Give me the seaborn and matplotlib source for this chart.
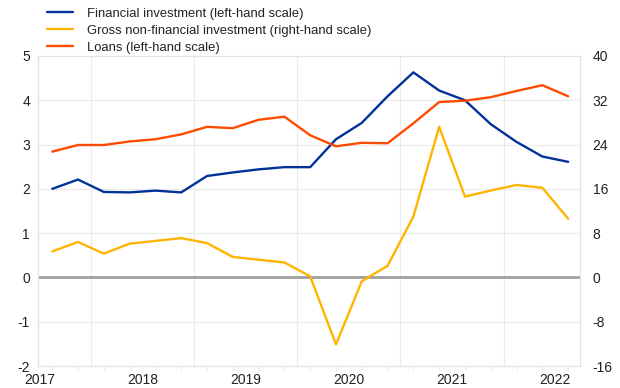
import numpy as np
import pandas as pd
import matplotlib
matplotlib.use("Agg")
import matplotlib.pyplot as plt
import seaborn as sns

# quarterly observations, 2017 Q3 to 2022 Q3
quarters = pd.period_range("2017Q3", "2022Q3", freq="Q")
financial = [2.00, 2.21, 1.93, 1.92, 1.96, 1.92, 2.29, 2.37, 2.44, 2.49, 2.49,
             3.12, 3.49, 4.09, 4.63, 4.22, 4.00, 3.46, 3.06, 2.73, 2.61]
loans = [2.84, 2.99, 2.99, 3.07, 3.12, 3.23, 3.40, 3.37, 3.56, 3.63, 3.21,
         2.96, 3.04, 3.03, 3.48, 3.96, 3.99, 4.07, 4.21, 4.34, 4.09]
gross_nonfin = [4.7, 6.4, 4.3, 6.1, 6.6, 7.1, 6.2, 3.7, 3.2, 2.7, 0.2,
                -12.1, -0.7, 2.1, 11.0, 27.2, 14.6, 15.7, 16.7, 16.2, 10.6]
years = [2017, 2018, 2019, 2020, 2021, 2022]

labels = ["Financial investment (left-hand scale)",
          "Gross non-financial investment (right-hand scale)",
          "Loans (left-hand scale)"]
colors = ["#003299", "#ffb400", "#ff4b00"]

# x position: middle of each quarter in fractional years
xpos = np.array([q.year + (q.quarter - 0.5) / 4 for q in quarters])
df = pd.DataFrame({"x": xpos, "financial": financial, "loans": loans,
                   "gross": gross_nonfin})

sns.set_style("white")
plt.rcParams["font.family"] = ["Liberation Sans", "DejaVu Sans"]
plt.rcParams["axes.unicode_minus"] = False
grid_col = "#ebebeb"
text_col = "#222222"

fig = plt.figure(figsize=(6.2, 3.88), dpi=100)
ax = fig.add_axes([0.0618, 0.0567, 0.8737, 0.799])
ax2 = ax.twinx()

sns.lineplot(data=df, x="x", y="financial", ax=ax, color=colors[0], lw=1.7, label=labels[0], legend=False)
sns.lineplot(data=df, x="x", y="loans", ax=ax, color=colors[2], lw=1.7, label=labels[2], legend=False)
sns.lineplot(data=df, x="x", y="gross", ax=ax2, color=colors[1], lw=1.7, label=labels[1], legend=False)

ax.set_xlim(2017.49, 2022.74)
ax.set_ylim(-2, 5)
ax2.set_ylim(-16, 40)
ax.set_yticks(range(-2, 6))
ax2.set_yticks(range(-16, 41, 8))
ax.set_xlabel("")
ax.set_ylabel("")
ax2.set_ylabel("")

ax.axhline(0, color="#a0a0a0", lw=2, zorder=1.5)
ax.grid(axis="y", color=grid_col, lw=0.8)
ax.set_axisbelow(True)

# year boundaries: gridlines + long ticks, year labels centred on each year
ax.set_xticks([y for y in years[1:]])
ax.set_xticklabels([])
ax.grid(axis="x", color=grid_col, lw=0.8)
ax.tick_params(axis="x", which="major", length=6, color=grid_col, width=0.8)
ax.set_xticks([y + 0.5 for y in years], minor=True)
ax.set_xticklabels([str(y) for y in years], minor=True)
ax.tick_params(axis="x", which="minor", length=0, pad=5, labelsize=10, labelcolor=text_col)

# short ticks at each quarter
sec = ax.secondary_xaxis("bottom")
sec.set_xticks(xpos)
sec.set_xticklabels([])
sec.tick_params(length=3, color=grid_col, width=0.8)
sec.spines["bottom"].set_visible(False)

ax.tick_params(axis="y", length=0, pad=6, labelsize=10, labelcolor=text_col)
ax2.tick_params(axis="y", length=0, pad=9, labelsize=10, labelcolor=text_col)

for a in (ax, ax2):
    for s in a.spines.values():
        s.set_color("#e2e2e2")
        s.set_linewidth(0.8)

h1, l1 = ax.get_legend_handles_labels()
h2, l2 = ax2.get_legend_handles_labels()
handles = dict(zip(l1 + l2, h1 + h2))
fig.legend([handles[l] for l in labels], labels, loc="upper left",
           bbox_to_anchor=(0.0758, 0.980), frameon=False, fontsize=9.4,
           handlelength=2.0, handletextpad=1.1, labelspacing=0.36,
           borderaxespad=0, borderpad=0, labelcolor=text_col)

fig.savefig("out.png", dpi=100)
